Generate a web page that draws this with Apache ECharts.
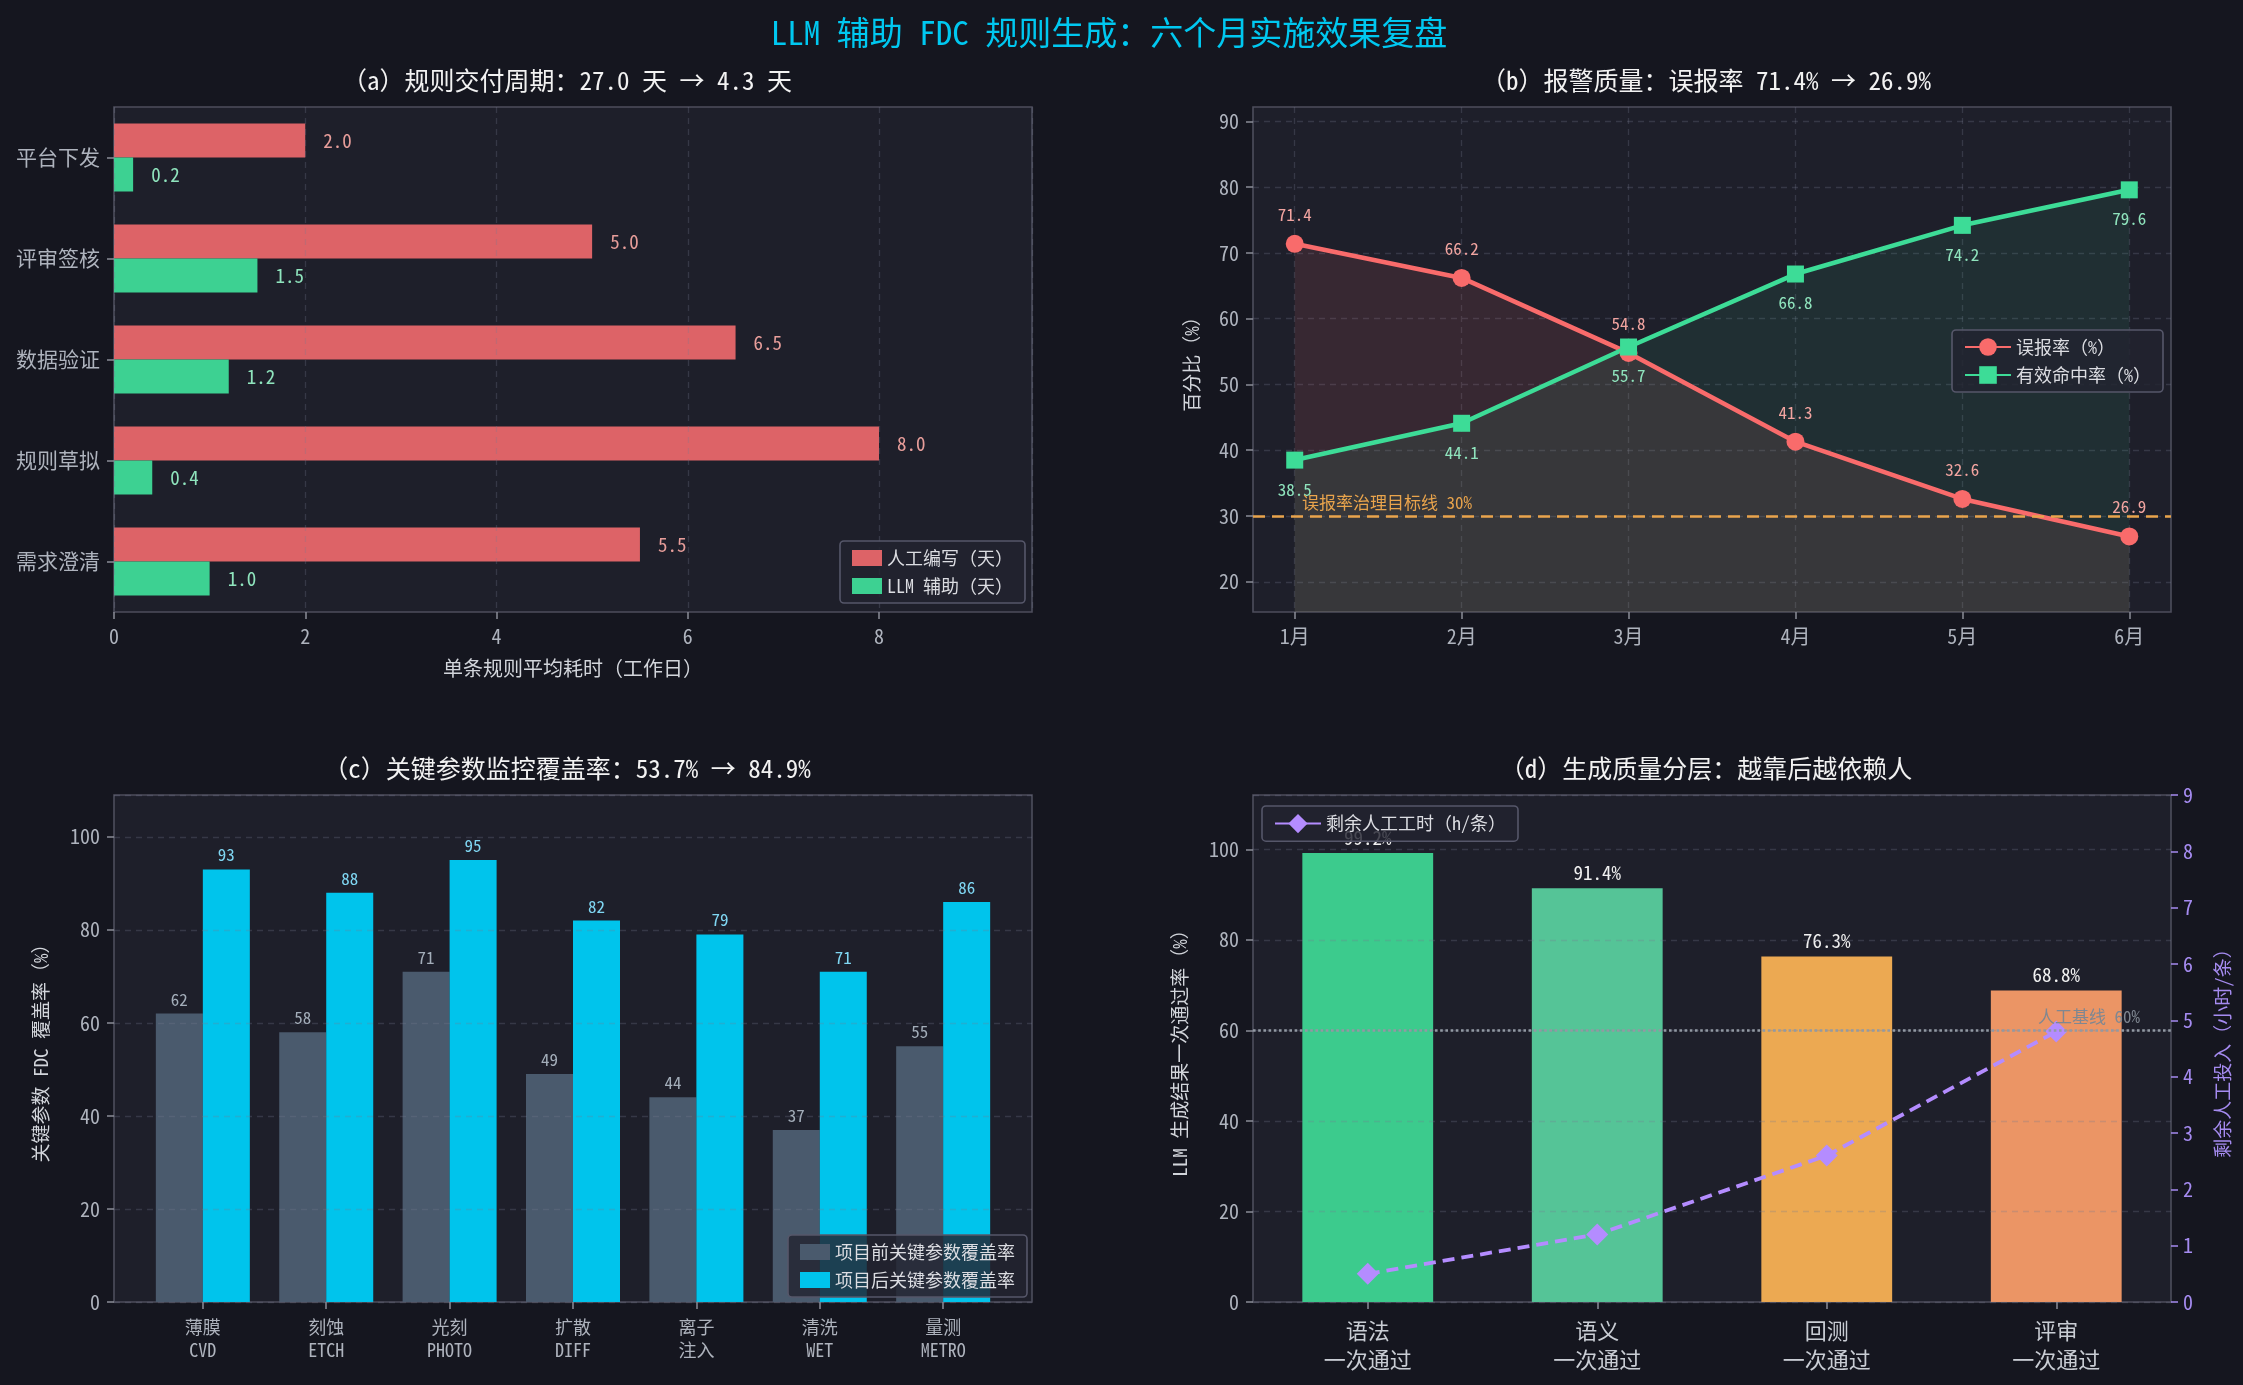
<!DOCTYPE html>
<html>
<head>
<meta charset="utf-8">
<script src="https://cdn.jsdelivr.net/npm/echarts@6/dist/echarts.min.js"></script>
<style>
  html, body { margin: 0; background: #15161f; }
  #main { width: 2243px; height: 1385px; }
</style>
</head>
<body>
<div id="main"></div>
<script>
const FONT = "'Noto Sans Mono CJK SC', 'Noto Sans CJK SC', 'DejaVu Sans Mono', monospace";

// (a) delivery cycle per stage
const stages = ['需求澄清', '规则草拟', '数据验证', '评审签核', '平台下发'];
const manualDays = [5.5, 8.0, 6.5, 5.0, 2.0];
const llmDays = [1.0, 0.4, 1.2, 1.5, 0.2];

// (b) alarm quality by month
const months = ['1月', '2月', '3月', '4月', '5月', '6月'];
const falseAlarm = [71.4, 66.2, 54.8, 41.3, 32.6, 26.9];
const hitRate = [38.5, 44.1, 55.7, 66.8, 74.2, 79.6];
const pctTicks = [20, 30, 40, 50, 60, 70, 80, 90];

// (c) key parameter coverage by module
const modules = ['薄膜\nCVD', '刻蚀\nETCH', '光刻\nPHOTO', '扩散\nDIFF', '离子\n注入', '清洗\nWET', '量测\nMETRO'];
const coverBefore = [62, 58, 71, 49, 44, 37, 55];
const coverAfter = [93, 88, 95, 82, 79, 71, 86];

// (d) generation quality tiers
const tiers = ['语法\n一次通过', '语义\n一次通过', '回测\n一次通过', '评审\n一次通过'];
const passRate = [99.2, 91.4, 76.3, 68.8];
const manualHours = [0.5, 1.2, 2.6, 4.8];
const tierColors = ['#3ccb8d', '#55c497', '#eca952', '#eb9565'];

const AXIS_TXT = '#aeb3bd';
const NAME_TXT = '#d2d5db';
const GRID_LINE = { show: true, lineStyle: { color: 'rgba(120,122,145,0.28)', type: [6, 5], width: 1.3 } };
const TICK = { show: true, length: 7, lineStyle: { color: '#8a8d98', width: 1.5 } };
const NO_LINE = { show: false, onZero: false };
const SUB = { color: '#f2f2f2', fontSize: 25, fontWeight: 'normal', fontFamily: FONT };

const monthIdx = months.map((_, i) => i);
const moduleIdx = modules.map((_, i) => i);

function gridBox(left, top, height) {
    return { left, top, width: 918, height, show: true, backgroundColor: '#1e1f2a', borderColor: '#4d4e5c', borderWidth: 1.6, containLabel: false };
}

function legendBox(extra) {
    return Object.assign({
        orient: 'vertical',
        backgroundColor: 'rgba(34,35,47,0.82)',
        borderColor: '#56576a',
        borderWidth: 1.6,
        borderRadius: 4,
        padding: [8, 12],
        itemGap: 10,
        textStyle: { color: '#dcdde2', fontSize: 18, fontFamily: FONT }
    }, extra);
}

const chart = echarts.init(document.getElementById('main'));

chart.setOption({
    backgroundColor: '#15161f',
    textStyle: { fontFamily: FONT },
    animation: false,
    title: [
        { text: 'LLM 辅助 FDC 规则生成：六个月实施效果复盘', left: 1104, textAlign: 'center', top: 11, textStyle: { color: '#00c8f0', fontSize: 33, fontWeight: 'normal', fontFamily: FONT } },
        { text: '（a）规则交付周期：27.0 天 → 4.3 天', left: 562, textAlign: 'center', top: 63, textStyle: SUB },
        { text: '（b）报警质量：误报率 71.4% → 26.9%', left: 1701, textAlign: 'center', top: 63, textStyle: SUB },
        { text: '（c）关键参数监控覆盖率：53.7% → 84.9%', left: 562, textAlign: 'center', top: 751, textStyle: SUB },
        { text: '（d）生成质量分层：越靠后越依赖人', left: 1701, textAlign: 'center', top: 751, textStyle: SUB }
    ],
    grid: [
        gridBox(114, 107, 505),
        gridBox(1253, 107, 505),
        gridBox(114, 795, 507),
        gridBox(1253, 795, 507)
    ],
    legend: [
        legendBox({ data: ['人工编写（天）', 'LLM 辅助（天）'], right: 1218, bottom: 782, icon: 'rect', itemWidth: 30, itemHeight: 16 }),
        legendBox({ data: ['误报率（%）', '有效命中率（%）'], right: 80, top: 330, itemWidth: 46, itemHeight: 22 }),
        legendBox({ data: ['项目前关键参数覆盖率', '项目后关键参数覆盖率'], right: 1216, bottom: 88, icon: 'rect', itemWidth: 30, itemHeight: 16 }),
        legendBox({ data: ['剩余人工工时（h/条）'], left: 1262, top: 806, itemWidth: 46, itemHeight: 24, lineStyle: { type: 'solid' } })
    ],
    xAxis: [
        {
            gridIndex: 0, type: 'value', min: 0, max: 9.6, interval: 2, z: 3,
            axisLine: NO_LINE, axisTick: TICK, splitLine: GRID_LINE,
            axisLabel: { color: AXIS_TXT, fontSize: 20, margin: 14, showMaxLabel: false },
            name: '单条规则平均耗时（工作日）', nameLocation: 'middle', nameGap: 46,
            nameTextStyle: { color: NAME_TXT, fontSize: 20 }
        },
        {
            gridIndex: 1, type: 'value', min: -0.25, max: 5.25, minInterval: 1, maxInterval: 1,
            axisLine: NO_LINE,
            axisTick: Object.assign({ customValues: monthIdx }, TICK),
            splitLine: GRID_LINE,
            axisLabel: { color: AXIS_TXT, fontSize: 20, margin: 14, customValues: monthIdx,
                formatter: v => (months[v] !== undefined ? months[v] : '') }
        },
        {
            gridIndex: 2, type: 'value', min: -0.72, max: 6.72, minInterval: 1, maxInterval: 1,
            axisLine: NO_LINE,
            axisTick: Object.assign({ customValues: moduleIdx }, TICK),
            splitLine: { show: false },
            axisLabel: { color: AXIS_TXT, fontSize: 18, lineHeight: 23, margin: 14, customValues: moduleIdx,
                formatter: v => (modules[v] !== undefined ? modules[v] : '') }
        },
        {
            gridIndex: 3, type: 'category', data: tiers,
            axisLine: NO_LINE, axisTick: Object.assign({ alignWithLabel: true }, TICK), splitLine: { show: false },
            axisLabel: { color: '#c9cdd4', fontSize: 22, lineHeight: 29, margin: 14 }
        }
    ],
    yAxis: [
        {
            gridIndex: 0, type: 'category', data: stages,
            axisLine: NO_LINE, axisTick: Object.assign({ alignWithLabel: true }, TICK), splitLine: { show: false },
            axisLabel: { color: AXIS_TXT, fontSize: 21, margin: 14 }
        },
        {
            gridIndex: 1, type: 'value', min: 15.4, max: 92.2, minInterval: 10, maxInterval: 10,
            axisLine: NO_LINE,
            axisTick: Object.assign({ customValues: pctTicks }, TICK),
            splitLine: GRID_LINE,
            axisLabel: { color: AXIS_TXT, fontSize: 20, margin: 14, customValues: pctTicks },
            name: '百分比（%）', nameLocation: 'middle', nameRotate: 90, nameGap: 52,
            nameTextStyle: { color: NAME_TXT, fontSize: 19 }
        },
        {
            gridIndex: 2, type: 'value', min: 0, max: 109, interval: 20, z: 3,
            axisLine: NO_LINE, axisTick: TICK, splitLine: GRID_LINE,
            axisLabel: { color: AXIS_TXT, fontSize: 20, margin: 14, showMaxLabel: false },
            name: '关键参数 FDC 覆盖率（%）', nameLocation: 'middle', nameRotate: 90, nameGap: 64,
            nameTextStyle: { color: NAME_TXT, fontSize: 19 }
        },
        {
            gridIndex: 3, type: 'value', min: 0, max: 112, interval: 20, z: 3,
            axisLine: NO_LINE, axisTick: TICK, splitLine: GRID_LINE,
            axisLabel: { color: AXIS_TXT, fontSize: 20, margin: 14, showMaxLabel: false },
            name: 'LLM 生成结果一次通过率（%）', nameLocation: 'middle', nameRotate: 90, nameGap: 64,
            nameTextStyle: { color: NAME_TXT, fontSize: 19 }
        },
        {
            gridIndex: 3, type: 'value', position: 'right', min: 0, max: 9, interval: 1,
            axisLine: NO_LINE,
            axisTick: { show: true, length: 7, lineStyle: { color: '#a58bf0', width: 1.5 } },
            splitLine: { show: false },
            axisLabel: { color: '#a58bf0', fontSize: 20, margin: 12 },
            name: '剩余人工投入（小时/条）', nameLocation: 'middle', nameRotate: 90, nameGap: 42,
            nameTextStyle: { color: '#a58bf0', fontSize: 19 }
        }
    ],
    series: [
        // (a)
        {
            name: '人工编写（天）', type: 'bar', xAxisIndex: 0, yAxisIndex: 0,
            data: manualDays, barWidth: 34, barGap: '0%',
            itemStyle: { color: '#e8676a', opacity: 0.95 },
            label: { show: true, position: 'right', distance: 18, color: '#f2a4a0', fontSize: 19, formatter: p => p.value.toFixed(1) }
        },
        {
            name: 'LLM 辅助（天）', type: 'bar', xAxisIndex: 0, yAxisIndex: 0,
            data: llmDays, barWidth: 34, barGap: '0%',
            itemStyle: { color: '#3dd192' },
            label: { show: true, position: 'right', distance: 18, color: '#8fe4bd', fontSize: 19, formatter: p => p.value.toFixed(1) }
        },
        // (b)
        {
            name: '误报率（%）', type: 'line', xAxisIndex: 1, yAxisIndex: 1,
            data: falseAlarm.map((v, i) => [i, v]),
            symbol: 'circle', symbolSize: 18,
            lineStyle: { color: '#f96b6b', width: 4.6 },
            itemStyle: { color: '#f96b6b' },
            areaStyle: { color: 'rgba(249,107,107,0.17)', origin: 'start' },
            label: { show: true, position: 'top', distance: 12, color: '#f2a4a0', fontSize: 17, formatter: p => p.value[1].toFixed(1) },
            markLine: {
                silent: true, symbol: 'none',
                data: [{ yAxis: 30 }],
                lineStyle: { color: '#e9a44c', type: [12, 7], width: 2.5 },
                label: { formatter: '误报率治理目标线 30%', position: 'insideStartTop', color: '#e9a44c', fontSize: 17, padding: [0, 0, 0, 44] }
            }
        },
        {
            name: '有效命中率（%）', type: 'line', xAxisIndex: 1, yAxisIndex: 1,
            data: hitRate.map((v, i) => [i, v]),
            symbol: 'rect', symbolSize: 17,
            lineStyle: { color: '#3ddc97', width: 4.6 },
            itemStyle: { color: '#3ddc97' },
            areaStyle: { color: 'rgba(61,220,151,0.12)', origin: 'start' },
            label: { show: true, position: 'bottom', distance: 12, color: '#8fe4bd', fontSize: 17, formatter: p => p.value[1].toFixed(1) }
        },
        // (c)
        {
            name: '项目前关键参数覆盖率', type: 'bar', xAxisIndex: 2, yAxisIndex: 2,
            data: coverBefore.map((v, i) => [i, v]), barWidth: 47, barGap: '0%',
            itemStyle: { color: '#4a5a6d' },
            label: { show: true, position: 'top', distance: 6, color: '#a3adb9', fontSize: 17, formatter: p => p.value[1] }
        },
        {
            name: '项目后关键参数覆盖率', type: 'bar', xAxisIndex: 2, yAxisIndex: 2,
            data: coverAfter.map((v, i) => [i, v]), barWidth: 47, barGap: '0%',
            itemStyle: { color: '#00c4ec' },
            label: { show: true, position: 'top', distance: 6, color: '#7fd6f2', fontSize: 17, formatter: p => p.value[1] }
        },
        // (d)
        {
            name: '一次通过率', type: 'bar', xAxisIndex: 3, yAxisIndex: 3,
            data: passRate, barWidth: '57%',
            itemStyle: { color: p => tierColors[p.dataIndex] },
            label: { show: true, position: 'top', distance: 6, color: '#f0f0f0', fontSize: 19, formatter: p => p.value.toFixed(1) + '%' },
            markLine: {
                silent: true, symbol: 'none',
                data: [{ yAxis: 60 }],
                lineStyle: { color: '#9299a3', type: 'dotted', width: 2.6 },
                label: { formatter: '人工基线 60%', position: 'insideEndTop', color: '#7f8791', fontSize: 17, padding: [0, 26, 0, 0] }
            }
        },
        {
            name: '剩余人工工时（h/条）', type: 'line', xAxisIndex: 3, yAxisIndex: 4,
            data: manualHours,
            symbol: 'diamond', symbolSize: 22,
            lineStyle: { color: '#b48cff', width: 3.8, type: [12, 7] },
            itemStyle: { color: '#b48cff' },
            z: 4
        }
    ]
});
</script>
</body>
</html>
